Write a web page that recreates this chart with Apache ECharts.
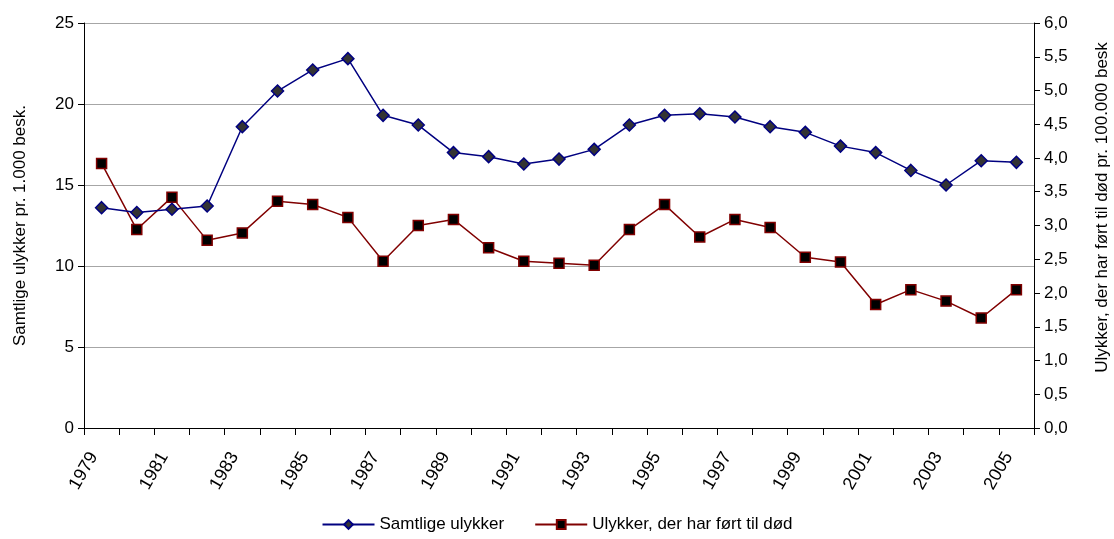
<!DOCTYPE html>
<html>
<head>
<meta charset="utf-8">
<script src="https://cdn.jsdelivr.net/npm/echarts@6/dist/echarts.min.js"></script>
<style>
html,body{margin:0;padding:0;background:#fff;}
#chart{width:1114px;height:539px;}
</style>
</head>
<body>
<div id="chart"></div>
<script>
const years = ['1979','1980','1981','1982','1983','1984','1985','1986','1987','1988','1989','1990','1991','1992','1993','1994','1995','1996','1997','1998','1999','2000','2001','2002','2003','2004','2005'];
const samtlige = [13.6,13.3,13.5,13.7,18.6,20.8,22.1,22.8,19.3,18.7,17.0,16.75,16.3,16.6,17.2,18.7,19.3,19.4,19.2,18.6,18.25,17.4,17.0,15.9,15.0,16.5,16.4];
const doed = [3.92,2.94,3.42,2.78,2.89,3.36,3.31,3.12,2.47,3.00,3.09,2.67,2.47,2.44,2.41,2.94,3.31,2.83,3.09,2.97,2.53,2.46,1.83,2.05,1.88,1.63,2.05];
const leftTicks = [0,5,10,15,20,25];
const rightTicks = [0,0.5,1,1.5,2,2.5,3,3.5,4,4.5,5,5.5,6];

const FONT = '"Liberation Sans", Arial, sans-serif';
const chart = echarts.init(document.getElementById('chart'));
chart.setOption({
  animation: false,
  backgroundColor: '#fff',
  textStyle: { fontFamily: FONT },
  grid: { left: 84, right: 80, top: 23, bottom: 111, containLabel: false, outerBoundsMode: 'none' },
  legend: {
    bottom: 1,
    left: 'center',
    itemWidth: 52,
    itemHeight: 11,
    itemGap: 30,
    textStyle: { fontFamily: FONT, fontSize: 17, color: '#000' },
    data: ['Samtlige ulykker', 'Ulykker, der har ført til død']
  },
  xAxis: {
    type: 'category',
    data: years,
    boundaryGap: true,
    axisLine: { lineStyle: { color: '#000', width: 1 } },
    axisTick: { show: true, length: 7, interval: 0, lineStyle: { color: '#000' } },
    axisLabel: { interval: 1, rotate: 60, fontSize: 18, color: '#000', margin: 30, verticalAlign: 'bottom', fontFamily: FONT },
    splitLine: { show: false }
  },
  yAxis: [
    {
      type: 'value',
      min: leftTicks[0],
      max: leftTicks[leftTicks.length - 1],
      interval: 5,
      position: 'left',
      name: 'Samtlige ulykker pr. 1.000 besk.',
      nameLocation: 'middle',
      nameRotate: 90,
      nameGap: 55,
      nameTextStyle: { fontSize: 17, color: '#000', fontFamily: FONT },
      axisLine: { show: true, lineStyle: { color: '#000', width: 1 } },
      axisTick: { show: true, length: 6, lineStyle: { color: '#000' } },
      axisLabel: { fontSize: 17, color: '#000', margin: 10, fontFamily: FONT },
      splitLine: { show: true, lineStyle: { color: '#a6a6a6', width: 1 } }
    },
    {
      type: 'value',
      min: rightTicks[0],
      max: rightTicks[rightTicks.length - 1],
      interval: 0.5,
      position: 'right',
      name: 'Ulykker, der har ført til død pr. 100.000 besk',
      nameLocation: 'middle',
      nameRotate: 90,
      nameGap: 60,
      nameTextStyle: { fontSize: 17, color: '#000', fontFamily: FONT, padding: [0, 0, 0, 36] },
      axisLine: { show: true, lineStyle: { color: '#000', width: 1 } },
      axisTick: { show: true, length: 6, lineStyle: { color: '#000' } },
      axisLabel: { fontSize: 17, color: '#000', margin: 10, fontFamily: FONT,
        formatter: v => v.toFixed(1).replace('.', ',') },
      splitLine: { show: false }
    }
  ],
  series: [
    {
      name: 'Samtlige ulykker',
      type: 'line',
      yAxisIndex: 0,
      data: samtlige,
      symbol: 'diamond',
      symbolSize: 12,
      lineStyle: { color: '#000080', width: 1.5 },
      itemStyle: { color: '#333333', borderColor: '#000080', borderWidth: 1.5 },
      z: 3
    },
    {
      name: 'Ulykker, der har ført til død',
      type: 'line',
      yAxisIndex: 1,
      data: doed,
      symbol: 'rect',
      symbolSize: 10,
      lineStyle: { color: '#800000', width: 1.5 },
      itemStyle: { color: '#000000', borderColor: '#800000', borderWidth: 1.5 },
      z: 2
    }
  ]
});
</script>
</body>
</html>
